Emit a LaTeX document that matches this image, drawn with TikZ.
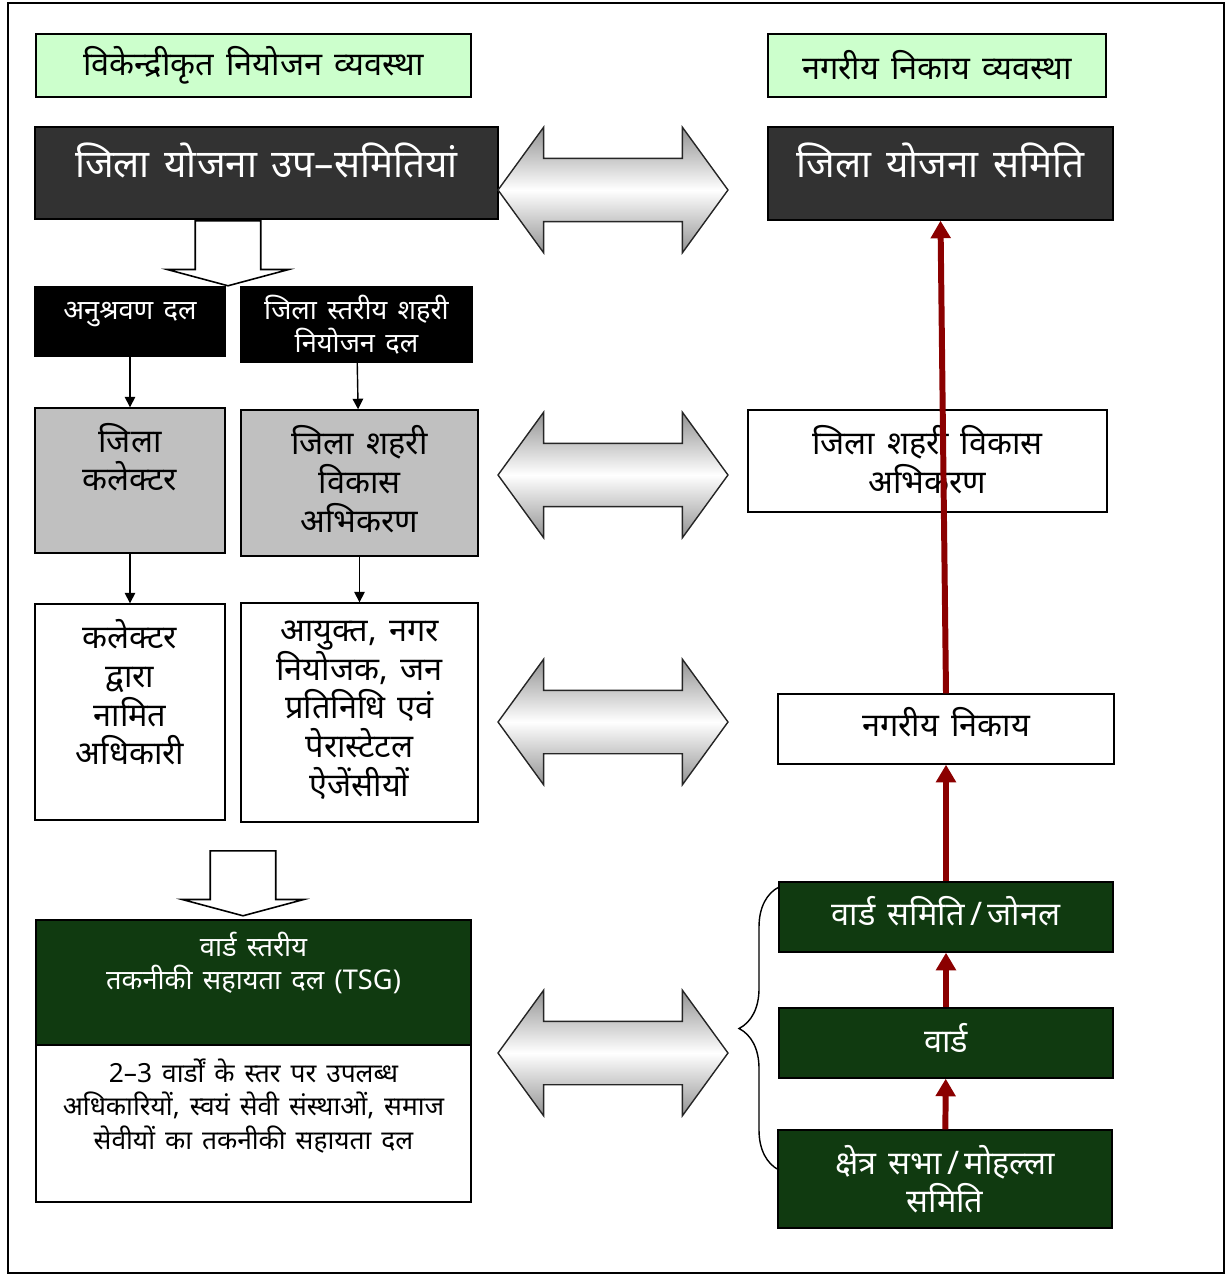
\documentclass[tikz,border=0pt]{standalone}
\usepackage{fontspec}
\setmainfont[Script=Devanagari, WordSpace=1.45]{Noto Sans}
\usetikzlibrary{arrows.meta,shapes.arrows,decorations.pathreplacing}

\definecolor{hdrgreen}{RGB}{204,255,204}
\definecolor{boxdark}{RGB}{50,50,50}
\definecolor{boxgrey}{RGB}{192,192,192}
\definecolor{boxgreen}{RGB}{16,58,16}
\definecolor{linkred}{RGB}{139,0,0}

\newcommand{\fnthdr}{\fontsize{18.5pt}{22pt}\selectfont}
\newcommand{\fntbig}{\fontsize{22pt}{26pt}\selectfont}
\newcommand{\fntmid}{\fontsize{18.5pt}{22pt}\selectfont}
\newcommand{\fntsml}{\fontsize{15.5pt}{19pt}\selectfont}
\newcommand{\fnttiny}{\fontsize{15pt}{19.3pt}\selectfont}

\begin{document}
\begin{tikzpicture}[x=0.02cm, y=-0.02cm,
    frame/.style={draw=black, line width=0.8pt, inner sep=0pt},
    hdrbox/.style={frame, fill=hdrgreen},
    darkbox/.style={frame, fill=boxdark},
    blackbox/.style={frame, fill=black},
    greybox/.style={frame, fill=boxgrey},
    whitebox/.style={frame, fill=white},
    greenbox/.style={frame, fill=boxgreen},
    txt/.style={align=center, inner sep=0pt},
    wtxt/.style={txt, text=white},
    blink/.style={line width=0.8pt, -{Triangle[length=6pt,width=6pt]}},
    redlink/.style={line width=3.4pt, draw=linkred, -{Triangle[length=10pt,width=11pt]}},
    hollow/.style={single arrow, draw=black, line width=0.9pt, fill=white,
        rotate=-90, inner xsep=0pt, inner ysep=0.64cm, minimum width=2.4cm,
        minimum height=1.3cm, single arrow head extend=0.56cm, single arrow tip angle=150},
    twoway/.style={double arrow, draw=black!85, line width=0.8pt,
        inner xsep=0pt, inner ysep=0.62cm, minimum width=2.48cm, minimum height=4.6cm,
        double arrow head extend=0.62cm, double arrow tip angle=108,
        top color=gray!85, bottom color=gray!85, middle color=white}]

    \useasboundingbox (0,0) rectangle (1231,1277);
    \draw[line width=1.2pt] (8,3) rectangle (1224,1273);

    % Headers
    \node[hdrbox, minimum width=8.7cm, minimum height=1.26cm] (hdrL) at (253.5,65.5) {};
    \node[txt, font=\fnthdr] (hdrL-txt) at (253.5,65) {विकेन्द्रीकृत नियोजन व्यवस्था};
    \node[hdrbox, minimum width=6.76cm, minimum height=1.26cm] (hdrR) at (937,65.5) {};
    \node[txt, font=\fnthdr] (hdrR-txt) at (937,65) {नगरीय निकाय व्यवस्था};

    % Left column
    \node[darkbox, minimum width=9.26cm, minimum height=1.84cm] (dpsL) at (266.5,173) {};
    \node[wtxt, font=\fntbig] (dpsL-txt) at (266.5,160) {जिला योजना उप–समितियां};
    \node[hollow, anchor=tail] (down1) at (228,220) {};

    \node[blackbox, minimum width=3.8cm, minimum height=1.38cm] (monit) at (130,321.5) {};
    \node[wtxt, font=\fntsml] (monit-txt) at (130,315) {अनुश्रवण दल};
    \node[blackbox, minimum width=4.62cm, minimum height=1.5cm] (dupt) at (356.5,324.5) {};
    \node[wtxt, font=\fntsml] (dupt-txt) at (356.5,324.5) {जिला स्तरीय शहरी\\ नियोजन दल};

    \node[greybox, minimum width=3.8cm, minimum height=2.9cm] (coll) at (130,480.5) {};
    \node[txt, font=\fntmid] (coll-txt) at (130,457) {जिला\\ कलेक्टर};
    \node[greybox, minimum width=4.74cm, minimum height=2.92cm] (duda) at (359.5,483) {};
    \node[txt, font=\fntmid] (duda-txt) at (359.5,479) {जिला शहरी\\ विकास\\ अभिकरण};

    \node[whitebox, minimum width=3.8cm, minimum height=4.32cm] (offc) at (130,712) {};
    \node[txt, font=\fntmid] (offc-txt) at (130,692.5) {\textbf{कलेक्टर}\\ द्वारा\\ नामित\\ अधिकारी};
    \node[whitebox, minimum width=4.74cm, minimum height=4.38cm] (comm) at (359.5,712.5) {};
    \node[txt, font=\fntmid] (comm-txt) at (359.5,710) {आयुक्त, नगर\\ नियोजक, जन\\ प्रतिनिधि एवं\\ पेरास्टेटल\\ ऐजेंसीयों};

    \draw[blink] (monit) -- (coll);
    \draw[blink] (dupt) -- (duda);
    \draw[blink] (coll) -- (offc);
    \draw[blink] (duda) -- (comm);

    \node[hollow, anchor=tail] (down2) at (243,850) {};
    \node[greenbox, minimum width=8.7cm, minimum height=2.5cm] (tsg) at (253.5,982.5) {};
    \node[wtxt, font=\fntsml] (tsg-txt) at (253.5,963) {वार्ड स्तरीय\\ तकनीकी सहायता दल (TSG)};
    \node[whitebox, minimum width=8.7cm, minimum height=3.14cm] (tsgnote) at (253.5,1123.5) {};
    \node[txt, font=\fnttiny] (tsgnote-txt) at (253.5,1106) {2–3 वार्डों के स्तर पर उपलब्ध\\ अधिकारियों, स्वयं सेवी संस्थाओं, समाज\\ सेवीयों का तकनीकी सहायता दल};

    % Two way arrows
    \node[twoway] (link1) at (613,190) {};
    \node[twoway] (link2) at (613,475) {};
    \node[twoway] (link3) at (613,722) {};
    \node[twoway] (link4) at (613,1053) {};

    % Right column
    \node[darkbox, minimum width=6.9cm, minimum height=1.86cm] (dpcR) at (940.5,173.5) {};
    \node[wtxt, font=\fntbig] (dpcR-txt) at (940.5,160) {जिला योजना समिति};
    \node[whitebox, minimum width=7.18cm, minimum height=2.04cm] (dudaR) at (927.5,461) {};
    \node[txt, font=\fntmid] (dudaR-txt) at (927.5,459.5) {जिला शहरी विकास\\ अभिकरण};
    \node[whitebox, minimum width=6.72cm, minimum height=1.4cm] (ulb) at (946,729) {};
    \node[txt, font=\fntmid] (ulb-txt) at (946,722) {नगरीय निकाय};
    \node[greenbox, minimum width=6.68cm, minimum height=1.4cm] (wcom) at (946,917) {};
    \node[wtxt, font=\fntmid] (wcom-txt) at (946,911) {वार्ड समिति\,/\,जोनल};
    \node[greenbox, minimum width=6.68cm, minimum height=1.4cm] (ward) at (946,1043) {};
    \node[wtxt, font=\fntmid] (ward-txt) at (946,1038) {वार्ड};
    \node[greenbox, minimum width=6.68cm, minimum height=1.96cm] (area) at (945,1179) {};
    \node[wtxt, font=\fntmid] (area-txt) at (945,1179) {क्षेत्र सभा\,/\,मोहल्ला\\ समिति};

    \draw[redlink] (ulb.north) -- (dpcR.south);
    \draw[redlink] (wcom) -- (ulb);
    \draw[redlink] (ward) -- (wcom);
    \draw[redlink] (area) -- (ward);

    % Brace over the ward level
    \coordinate (brlo) at (779,1170);
    \coordinate (brhi) at (779,887);
    \draw[decorate, decoration={brace, amplitude=0.8cm}, line width=0.8pt] (brlo) -- (brhi);
\end{tikzpicture}
\end{document}
